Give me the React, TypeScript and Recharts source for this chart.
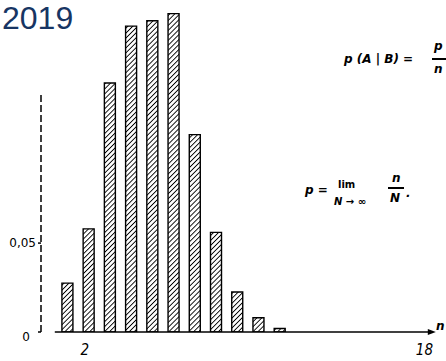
import React from 'react';
import { BarChart, Bar, XAxis, YAxis, ReferenceLine, ReferenceDot } from 'recharts';

// number of events n and its relative frequency
const outcomes = [1, 2, 3, 4, 5, 6, 7, 8, 9, 10, 11];
const frequencies = [0.0275, 0.058, 0.14, 0.172, 0.175, 0.179, 0.111, 0.056, 0.0225, 0.008, 0.002];
const xTicks = [2, 18];
const yTicks = [0, 0.05];

const data = outcomes.map((n, i) => ({ n, p: frequencies[i] }));

const formulaStyle: React.CSSProperties = {
  position: 'absolute',
  fontFamily: '"DejaVu Sans", sans-serif',
  fontStyle: 'italic',
  fontWeight: 'bold',
  fontSize: 12,
  color: '#000',
  whiteSpace: 'nowrap',
  lineHeight: 1
};

const YTick = (props: any) => {
  const { x, y, payload } = props;
  const zero = payload.value === 0;
  return (
    <text
      x={zero ? x - 6 : x}
      y={zero ? y + 9 : y + 4}
      textAnchor="end"
      fontSize={12}
      fontFamily='"DejaVu Sans", sans-serif'
      fill="#000"
    >
      {zero ? '0' : '0,05'}
    </text>
  );
};

const XTick = (props: any) => {
  const { x, y, payload } = props;
  return (
    <text
      x={x - 4}
      y={y + 15}
      textAnchor="middle"
      fontSize={15}
      fontStyle="italic"
      fontFamily='"DejaVu Sans Condensed", "DejaVu Sans", sans-serif'
      fill="#000"
    >
      {payload.value}
    </text>
  );
};

const Arrow = (props: any) => {
  const { cx, cy } = props;
  return <path d={`M${cx - 8},${cy - 3} L${cx},${cy} L${cx - 8},${cy + 3} Z`} fill="#000" />;
};

const App: React.FC = () => {
  return (
    <div style={{ position: 'absolute', left: 0, top: 0, width: 446, height: 361, background: '#fff', overflow: 'hidden' }}>
      <BarChart width={446} height={361} data={data} margin={{ top: 3, right: 7, left: 0, bottom: 0 }}>
        <defs>
          <pattern id="hatch" width="3.5" height="3.5" patternUnits="userSpaceOnUse" patternTransform="rotate(45)">
            <line x1="0" y1="0" x2="0" y2="3.5" stroke="#000" strokeWidth={1.8} />
          </pattern>
        </defs>
        <XAxis
          dataKey="n"
          type="number"
          domain={[-0.25, 18.5]}
          ticks={xTicks}
          axisLine={false}
          tickLine={false}
          height={29}
          tick={<XTick />}
          allowDataOverflow
        />
        <YAxis
          type="number"
          domain={[0, 0.185]}
          ticks={yTicks}
          width={41}
          axisLine={false}
          tickSize={3}
          tickLine={{ stroke: '#000', strokeWidth: 1.5 }}
          tick={<YTick />}
          allowDataOverflow
        />
        <ReferenceLine
          segment={[{ x: -0.25, y: 0 }, { x: -0.25, y: 0.135 }]}
          stroke="#000"
          strokeWidth={1.5}
          strokeDasharray="7 3"
        />
        <ReferenceLine
          segment={[{ x: 0.4, y: 0 }, { x: 18.2, y: 0 }]}
          stroke="#000"
          strokeWidth={1.3}
        />
        <ReferenceDot x={18.35} y={0} r={3} shape={<Arrow />} />
        <Bar
          dataKey="p"
          barSize={11}
          fill="url(#hatch)"
          stroke="#000"
          strokeWidth={1.4}
          isAnimationActive={false}
        />
      </BarChart>

      <div style={{ position: 'absolute', left: 2, top: 2, fontFamily: '"Liberation Sans", Arial, sans-serif', fontSize: 32, color: '#173563', lineHeight: 1 }}>
        2019
      </div>

      <div style={{ ...formulaStyle, left: 344, top: 53 }}>p (A | B) =</div>
      <div style={{ ...formulaStyle, left: 434, top: 40 }}>p</div>
      <div style={{ position: 'absolute', left: 432, top: 58, width: 14, height: 1.5, background: '#000' }} />
      <div style={{ ...formulaStyle, left: 434, top: 63 }}>n</div>

      <div style={{ ...formulaStyle, left: 305, top: 184 }}>p =</div>
      <div style={{ ...formulaStyle, left: 338, top: 180, fontStyle: 'normal', fontSize: 10 }}>lim</div>
      <div style={{ ...formulaStyle, left: 334, top: 197, fontSize: 10 }}>N → ∞</div>
      <div style={{ ...formulaStyle, left: 392, top: 172 }}>n</div>
      <div style={{ position: 'absolute', left: 388, top: 187, width: 16, height: 1.5, background: '#000' }} />
      <div style={{ ...formulaStyle, left: 390, top: 192 }}>N</div>
      <div style={{ ...formulaStyle, left: 406, top: 187 }}>.</div>

      <div style={{ ...formulaStyle, left: 436, top: 320, fontSize: 12 }}>n</div>
    </div>
  );
};

export default App;
